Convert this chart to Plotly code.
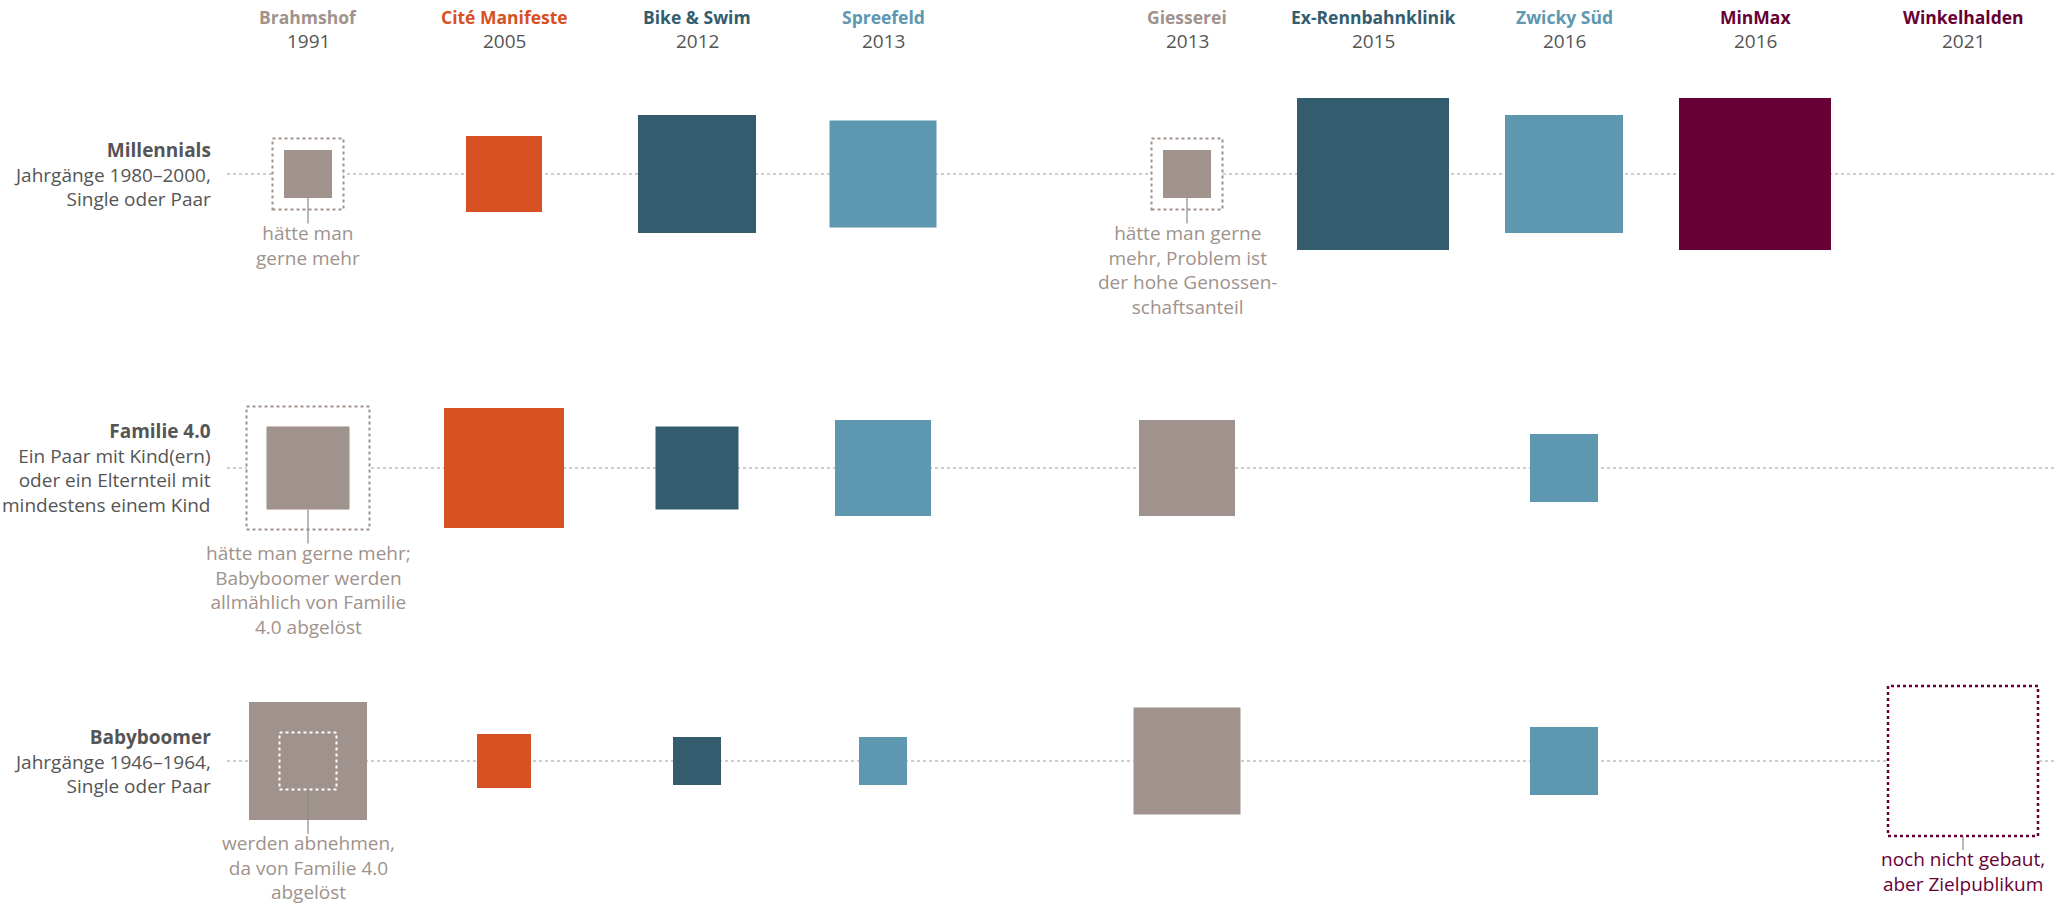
import plotly.graph_objects as go

# ---------------- data ----------------
projects = ["Brahmshof", "Cité Manifeste", "Bike & Swim", "Spreefeld", "Giesserei",
            "Ex-Rennbahnklinik", "Zwicky Süd", "MinMax", "Winkelhalden"]
years = ["1991", "2005", "2012", "2013", "2013", "2015", "2016", "2016", "2021"]

groups = ["Millennials", "Familie 4.0", "Babyboomer"]
group_desc = [
    "Jahrgänge 1980–2000,<br>Single oder Paar",
    "Ein Paar mit Kind(ern)<br>oder ein Elternteil mit<br>mindestens einem Kind",
    "Jahrgänge 1946–1964,<br>Single oder Paar",
]

# square side (relative size of the group in each project), None = not present
millennials = [48, 76, 118, 107, 48, 152, 118, 152, None]
familie = [83, 120, 83, 96, 96, None, 68, None, None]
babyboomer = [118, 54, 48, 48, 107, None, 68, None, None]

# wished / expected sizes (dotted boxes)
millennials_wish = [71, None, None, None, 71, None, None, None, None]
familie_wish = [123, None, None, None, None, None, None, None, None]
babyboomer_wish = [57, None, None, None, None, None, None, None, 150]

notes = [
    (0, 0, "hätte man<br>gerne mehr"),
    (0, 4, "hätte man gerne<br>mehr, Problem ist<br>der hohe Genossen-<br>schaftsanteil"),
    (1, 0, "hätte man gerne mehr;<br>Babyboomer werden<br>allmählich von Familie<br>4.0 abgelöst"),
    (2, 0, "werden abnehmen,<br>da von Familie 4.0<br>abgelöst"),
    (2, 8, "noch nicht gebaut,<br>aber Zielpublikum"),
]

# ---------------- styles / layout ----------------
GRAY = "#a0928c"
ORANGE = "#d75022"
DARK = "#335d6f"
LIGHT = "#5d97b0"
MAG = "#670035"
proj_colors = [GRAY, ORANGE, DARK, LIGHT, GRAY, DARK, LIGHT, MAG, MAG]
col_x = [308, 504, 697, 883, 1187, 1373, 1564, 1755, 1963]
row_y = [174, 468, 761]
W, H = 2065, 907
FONT = "Open Sans"
TXT = "#555555"
FS = 19

sizes = [millennials, familie, babyboomer]
wishes = [millennials_wish, familie_wish, babyboomer_wish]

fig = go.Figure()
shapes = []
annotations = []

# dotted row lines
for ry in row_y:
    shapes.append(dict(type="line", xref="x", yref="y", x0=227, x1=2055, y0=ry, y1=ry,
                       line=dict(color="#9a9a9a", width=1, dash="dot"), layer="below"))

# dotted boxes
for gi, wl in enumerate(wishes):
    for pi, s in enumerate(wl):
        if s is None:
            continue
        inner_white = sizes[gi][pi] is not None and sizes[gi][pi] > s
        if inner_white:
            col, width, fill, layer = "white", 2, "rgba(0,0,0,0)", "above"
        else:
            col = MAG if pi == 8 else GRAY
            width = 2.5 if pi == 8 else 2
            fill, layer = "white", "below"
        shapes.append(dict(type="rect", xref="x", yref="y", xsizemode="pixel", ysizemode="pixel",
                           xanchor=col_x[pi], yanchor=row_y[gi],
                           x0=-s / 2, x1=s / 2, y0=-s / 2, y1=s / 2,
                           line=dict(color=col, width=width, dash="dot"),
                           fillcolor=fill, layer=layer))

# filled squares
for gi, sl in enumerate(sizes):
    xs, ys, ss, cs = [], [], [], []
    for pi, s in enumerate(sl):
        if s is None:
            continue
        xs.append(col_x[pi]); ys.append(row_y[gi]); ss.append(s); cs.append(proj_colors[pi])
    fig.add_trace(go.Scatter(x=xs, y=ys, mode="markers", name=groups[gi],
                             marker=dict(symbol="square", size=ss, color=cs, opacity=1,
                                         line=dict(width=0)),
                             hoverinfo="skip", showlegend=False))

# notes with tick lines
for gi, pi, txt in notes:
    outer = max(v for v in [sizes[gi][pi], wishes[gi][pi]] if v is not None)
    inner = min(v for v in [sizes[gi][pi], wishes[gi][pi]] if v is not None)
    start = row_y[gi] + inner / 2
    end = row_y[gi] + outer / 2 + 14
    shapes.append(dict(type="line", xref="x", yref="y", x0=col_x[pi], x1=col_x[pi],
                       y0=start, y1=end, line=dict(color="#8a8a8a", width=1.2), layer="above"))
    annotations.append(dict(x=col_x[pi], y=end - 6, xref="x", yref="y", text=txt, showarrow=False,
                            xanchor="center", yanchor="top", align="center",
                            font=dict(family=FONT, size=FS, color=MAG if pi == 8 else GRAY)))

# headers
for pi, name in enumerate(projects):
    annotations.append(dict(x=col_x[pi], y=17, xref="x", yref="y", text=f"<b>{name}</b>",
                            showarrow=False, xanchor="center", yanchor="middle",
                            font=dict(family=FONT, size=17.5, color=proj_colors[pi])))
    annotations.append(dict(x=col_x[pi], y=41, xref="x", yref="y", text=years[pi],
                            showarrow=False, xanchor="center", yanchor="middle",
                            font=dict(family=FONT, size=FS, color=TXT)))

# row labels
for gi, g in enumerate(groups):
    annotations.append(dict(x=213, y=row_y[gi], xref="x", yref="y",
                            text=f"<b>{g}</b><br>{group_desc[gi]}",
                            showarrow=False, xanchor="right", yanchor="middle", align="right",
                            font=dict(family=FONT, size=FS, color=TXT)))

fig.update_layout(
    width=W, height=H,
    margin=dict(l=0, r=0, t=0, b=0),
    paper_bgcolor="white", plot_bgcolor="white",
    xaxis=dict(range=[0, W], visible=False, fixedrange=True),
    yaxis=dict(range=[H, 0], visible=False, fixedrange=True),
    shapes=shapes, annotations=annotations, showlegend=False,
)

fig.write_html("out.html", config={"displayModeBar": False},
               post_script="document.body.style.margin='0px';document.body.style.overflow='hidden';")
